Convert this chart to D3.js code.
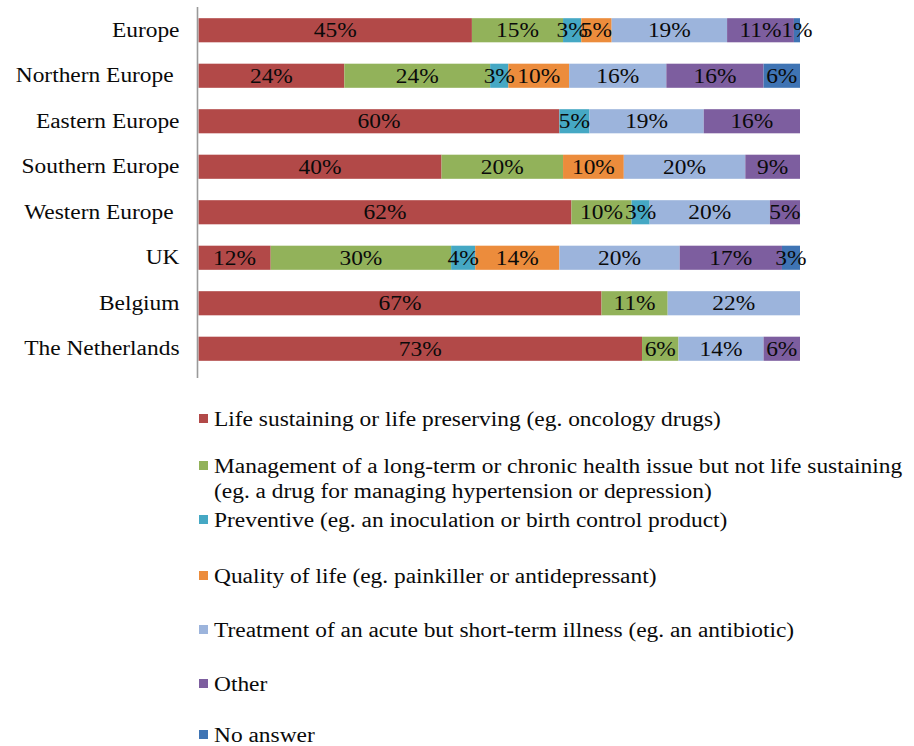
<!DOCTYPE html>
<html>
<head>
<meta charset="utf-8">
<script src="https://cdn.jsdelivr.net/npm/d3@7"></script>
<style>
  body { margin: 0; background: #fff; }
  svg text { font-family: "Liberation Serif", "Times New Roman", serif; fill: #0a0a0a; white-space: pre; }
</style>
</head>
<body>
<script>
var width = 914,
    height = 746;

// categories, top to bottom (the original has a trailing space on two of them)
var regions = ["Europe", "Northern Europe ", "Eastern Europe", "Southern Europe",
               "Western Europe ", "UK", "Belgium", "The Netherlands"];

var seriesKeys = ["life", "chronic", "preventive", "quality", "acute", "other", "noanswer"];

// percentages per series (in region order); 0 = no segment
var lifeSustaining = [45, 24, 60, 40, 62, 12, 67, 73];
var chronicMgmt    = [15, 24,  0, 20, 10, 30, 11,  6];
var preventive     = [ 3,  3,  5,  0,  3,  4,  0,  0];
var qualityOfLife  = [ 5, 10,  0, 10,  0, 14,  0,  0];
var acuteTreatment = [19, 16, 19, 20, 20, 20, 22, 14];
var otherAnswer    = [11, 16, 16,  9,  5, 17,  0,  6];
var noAnswer       = [ 1,  6,  0,  0,  0,  3,  0,  0];

var legendLabels = [
  ["Life sustaining or life preserving (eg. oncology drugs)"],
  ["Management of a long-term or chronic health issue but not life sustaining",
   "(eg. a drug for managing hypertension or depression)"],
  ["Preventive (eg. an inoculation or birth control product)"],
  ["Quality of life (eg. painkiller or antidepressant)"],
  ["Treatment of an acute but short-term illness (eg. an antibiotic)"],
  ["Other"],
  ["No answer"]
];

var colors = ["#b24948", "#92b25a", "#45a8c4", "#ec8c3c", "#9cb4dc", "#7d5e9f", "#3f74b4"];

var allSeries = [lifeSustaining, chronicMgmt, preventive, qualityOfLife,
                 acuteTreatment, otherAnswer, noAnswer];

var table = regions.map(function(r, i) {
  var row = {region: r};
  seriesKeys.forEach(function(k, j) { row[k] = allSeries[j][i]; });
  return row;
});

// 100% stacked, like the original
var stacked = d3.stack()
    .keys(seriesKeys)
    .offset(d3.stackOffsetExpand)(table);

var stretch = 1.17;   // the picture's text is a bit wide
var serif = "'Liberation Serif', 'Times New Roman', serif";

var x = d3.scaleLinear()
    .domain([0, 1])
    .range([198.5, 800]);

var y = d3.scaleBand()
    .domain(regions)
    .range([7.5, 371.5])
    .paddingInner(0.47)
    .paddingOuter(0.235);

var color = d3.scaleOrdinal()
    .domain(seriesKeys)
    .range(colors);

var svg = d3.select("body").append("svg")
    .attr("width", width)
    .attr("height", height);

function widen(sel) {
  sel.each(function() {
    var w = this.getComputedTextLength();
    d3.select(this)
      .attr("textLength", w * stretch)
      .attr("lengthAdjust", "spacingAndGlyphs");
  });
}

// bars
var layers = svg.append("g").selectAll("g")
    .data(stacked)
    .join("g")
    .attr("fill", function(d) { return color(d.key); });

layers.selectAll("rect")
    .data(function(d) { return d.filter(function(s) { return s[1] - s[0] > 0; }); })
    .join("rect")
    .attr("x", function(d) { return x(d[0]); })
    .attr("y", function(d) { return y(d.data.region); })
    .attr("width", function(d) { return x(d[1]) - x(d[0]); })
    .attr("height", y.bandwidth());

// value labels
var labels = svg.append("g");
stacked.forEach(function(layer) {
  labels.selectAll(null)
    .data(layer.filter(function(s) { return s[1] - s[0] > 0; }))
    .join("text")
    .attr("x", function(d) { return x((d[0] + d[1]) / 2); })
    .attr("y", function(d) { return y(d.data.region) + y.bandwidth() / 2; })
    .attr("dy", "0.35em")
    .attr("text-anchor", "middle")
    .style("font-family", serif)
    .style("font-size", "20px")
    .text(function(d) { return d.data[layer.key] + "%"; })
    .call(widen);
});

// category axis
var yAxis = svg.append("g")
    .attr("transform", "translate(197.5,0)")
    .call(d3.axisLeft(y).tickSize(0).tickPadding(18));
yAxis.attr("font-family", null);
yAxis.select(".domain")
    .attr("d", "M0,7V378")
    .attr("stroke", "#9a9a9a")
    .attr("stroke-width", 1.6);
yAxis.selectAll(".tick text")
    .style("font-size", "20px")
    .attr("fill", "#0a0a0a")
    .style("font-family", serif)
    .call(widen);

// legend
var legendY = [419, 466, 520, 576, 630, 684, 735];
var legend = svg.append("g").selectAll("g")
    .data(legendLabels)
    .join("g")
    .attr("transform", function(d, i) { return "translate(199," + legendY[i] + ")"; });

legend.append("rect")
    .attr("x", 0)
    .attr("y", -5)
    .attr("width", 9)
    .attr("height", 9)
    .attr("fill", function(d, i) { return colors[i]; });

legend.each(function(lines) {
  d3.select(this).selectAll("text")
    .data(lines)
    .join("text")
    .attr("x", 15)
    .attr("y", function(d, j) { return j * 25; })
    .attr("dy", "0.35em")
    .style("font-family", serif)
    .style("font-size", "20px")
    .text(function(d) { return d; })
    .call(widen);
});
</script>
</body>
</html>
